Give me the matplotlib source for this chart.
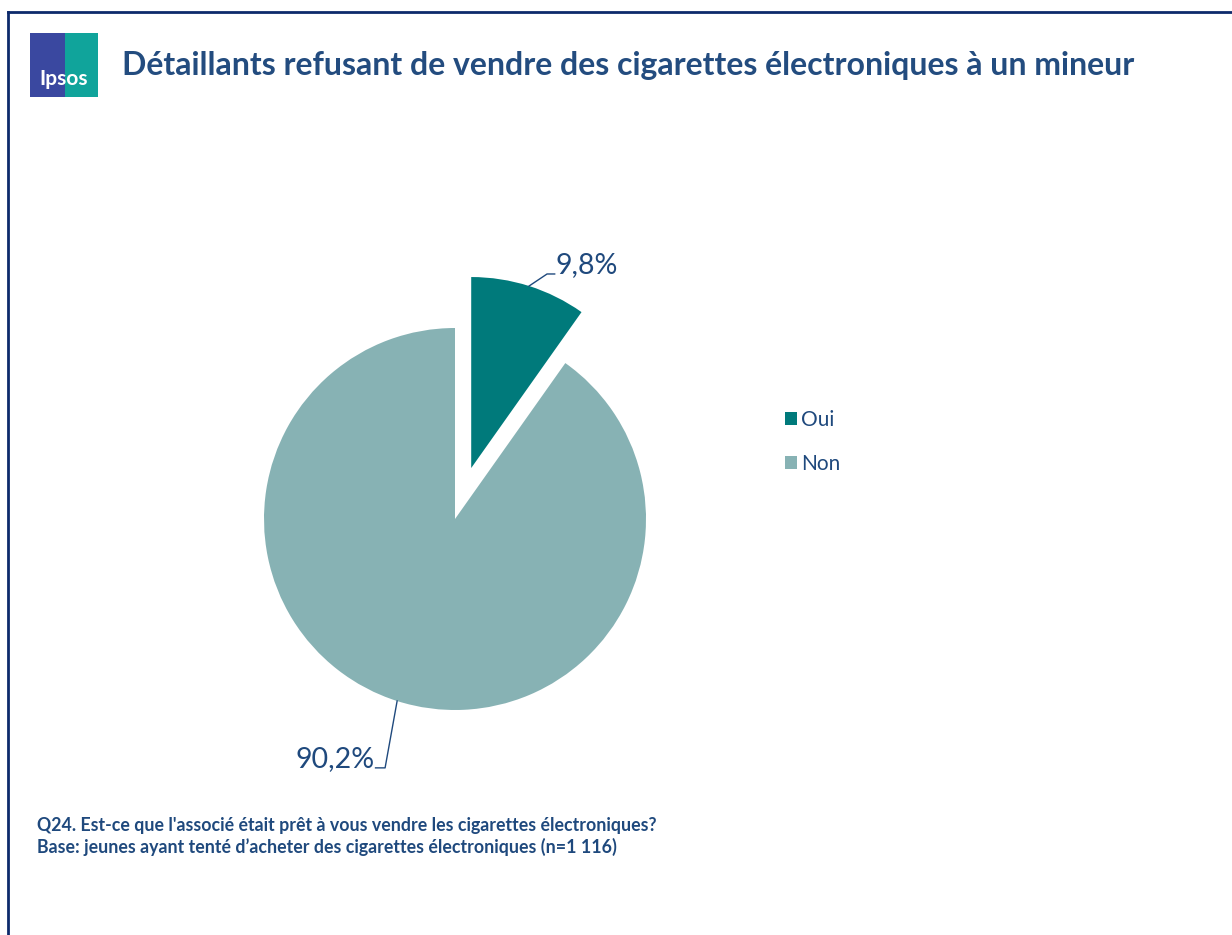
import matplotlib.pyplot as plt
import numpy as np
from matplotlib.patches import Rectangle

# données
categories = ['Oui', 'Non']
values = [9.8, 90.2]
value_labels = ['9,8%', '90,2%']
colors = ['#007A7B', '#87B2B4']

title = "Détaillants refusant de vendre des cigarettes électroniques à un mineur"
note1 = "Q24. Est-ce que l'associé était prêt à vous vendre les cigarettes électroniques?"
note2 = "Base: jeunes ayant tenté d\u2019acheter des cigarettes électroniques (n=1 116)"

navy = '#1F497D'
plt.rcParams['font.family'] = ['Lato', 'DejaVu Sans']

W, H = 1232, 935
fig = plt.figure(figsize=(W / 100, H / 100), dpi=100)

# cadre
fig.add_artist(plt.Line2D([8 / W, 1], [1 - 12 / H, 1 - 12 / H], color='#0D2A6B', lw=2))
fig.add_artist(plt.Line2D([8 / W, 8 / W], [1 - 12 / H, 0], color='#0D2A6B', lw=2))

# logo Ipsos
fig.add_artist(Rectangle((30 / W, 1 - 97 / H), 35 / W, 64 / H, transform=fig.transFigure,
                         color='#3A48A0', lw=0))
fig.add_artist(Rectangle((65 / W, 1 - 97 / H), 33 / W, 64 / H, transform=fig.transFigure,
                         color='#10A49B', lw=0))
fig.text(64 / W, 1 - 79 / H, 'Ipsos', color='white', fontsize=15, fontweight='bold',
         ha='center', va='center')

# titre
fig.text(122 / W, 1 - 66 / H, title, color='#234C7F', fontsize=23, fontweight='bold',
         ha='left', va='center')

# camembert
r_px = 191
cx, cy = 455, 519
ax = fig.add_axes([(cx - 1.5 * r_px) / W, (H - cy - 1.5 * r_px) / H, 3 * r_px / W, 3 * r_px / H])
wedges, _ = ax.pie(values, colors=colors, startangle=90, counterclock=False,
                   explode=[0.28, 0], radius=1, wedgeprops=dict(linewidth=0))
ax.set_xlim(-1.5, 1.5)
ax.set_ylim(-1.5, 1.5)
ax.set_aspect('equal')
ax.axis('off')

# étiquettes avec lignes de rappel
offsets = [((0.094, 0.063), 0.04, 'left'), ((-0.063, -0.35), -0.05, 'right')]
for w, lab, (d, hz, ha) in zip(wedges, value_labels, offsets):
    ang = np.deg2rad((w.theta1 + w.theta2) / 2)
    x0 = w.center[0] + w.r * np.cos(ang)
    y0 = w.center[1] + w.r * np.sin(ang)
    x1, y1 = x0 + d[0], y0 + d[1]
    x2 = x1 + hz
    ax.plot([x0, x1, x2], [y0, y1, y1], color=navy, lw=1)
    ax.text(x2 + (0.005 if ha == 'left' else -0.005), y1 + 0.045, lab, color=navy,
            fontsize=20.5, ha=ha, va='center')

# légende
fig.legend(wedges, categories, loc='upper left', bbox_to_anchor=(766 / W, 1 - 391 / H),
           frameon=False, fontsize=15, labelcolor=navy, handlelength=0.58, handleheight=0.58,
           handletextpad=0.2, labelspacing=1.15)

# notes
fig.text(37 / W, 1 - 826 / H, note1, color=navy, fontsize=12.8, fontweight='bold', va='center')
fig.text(37 / W, 1 - 847 / H, note2, color=navy, fontsize=12.8, fontweight='bold', va='center')

fig.savefig('out.png', dpi=100)
